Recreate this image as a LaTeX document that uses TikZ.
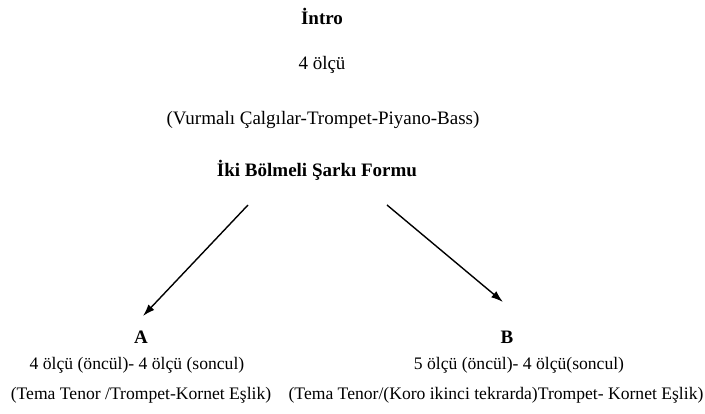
\documentclass[tikz,border=0pt]{standalone}
\usepackage{fontspec}
\setmainfont{Liberation Serif}
\usetikzlibrary{arrows.meta}
\tikzset{txt/.style={inner sep=0pt,font=\fontsize{19}{22}\selectfont},
  bld/.style={txt,font=\fontsize{19}{22}\selectfont\bfseries},
  low/.style={inner sep=0pt,font=\fontsize{17.6}{20}\selectfont}}

\begin{document}
\begin{tikzpicture}[x=1pt,y=1pt]
\useasboundingbox (0,0) rectangle (705,414);
\node[bld] (N0) at (322,398) {İntro};
\node[txt] (N1) at (322,349) {4 ölçü};
\node[txt] (N2) at (323,294) {(Vurmalı Çalgılar-Trompet-Piyano-Bass)};
\node[bld] (N3) at (317,244) {İki Bölmeli Şarkı Formu};
\node[bld] (A) at (141,77) {A};
\node[low] (A1) at (137,49) {4 ölçü (öncül)- 4 ölçü (soncul)};
\node[low] (A2) at (141,19) {(Tema Tenor /Trompet-Kornet Eşlik)};
\node[bld] (B) at (507,77) {B};
\node[low] (B1) at (519,49) {5 ölçü (öncül)- 4 ölçü(soncul)};
\node[low] (B2) at (496,19) {(Tema Tenor/(Koro ikinci tekrarda)Trompet- Kornet Eşlik)};
\coordinate (a0) at (248,209);
\coordinate (a1) at (143,98);
\coordinate (b0) at (387,209);
\coordinate (b1) at (503,112);
\draw[-{Latex[length=12pt,width=8pt]},line width=1.4pt] (a0) -- (a1);
\draw[-{Latex[length=12pt,width=8pt]},line width=1.4pt] (b0) -- (b1);
\end{tikzpicture}
\end{document}
